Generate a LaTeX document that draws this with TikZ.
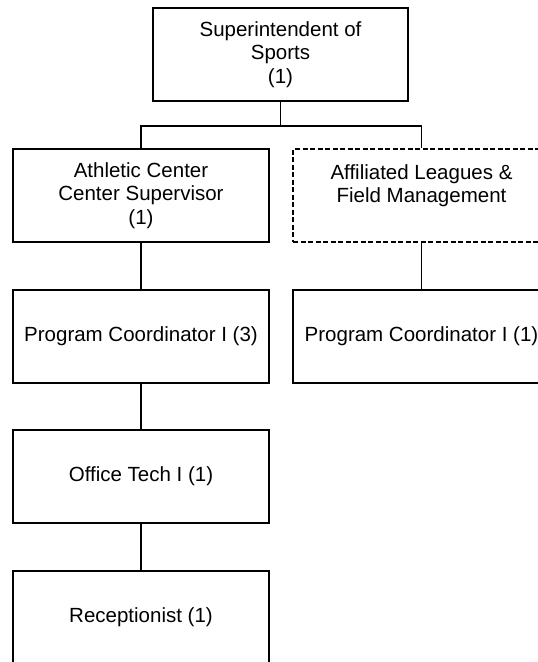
\documentclass[tikz,border=0pt]{standalone}
\usepackage{fontspec}
\setmainfont{Liberation Sans}
\begin{document}
\begin{tikzpicture}[x=1pt,y=1pt,
  box/.style={draw=black, line width=1.5pt, rectangle, inner sep=0pt,
    minimum height=93pt, align=center,
    font=\fontsize{20.5}{23.5}\selectfont},
  dbox/.style={box, line width=1.1pt, dash pattern=on 5pt off 2.5pt},
  link/.style={draw=black, line width=1.5pt}]
\clip (0,0) rectangle (538,-662);
\node[box, minimum width=255pt] (top) at (280.5,-54.5) {Superintendent of\\Sports\\(1)};
\node[box, minimum width=256pt] (ac) at (141,-195.5) {Athletic Center\\Center Supervisor\\(1)};
\node[dbox, minimum width=257pt] (al) at (421.5,-195.5) {Affiliated Leagues \&\\Field Management\\\mbox{}};
\node[box, minimum width=256pt] (pc3) at (141,-336.5) {Program Coordinator I (3)};
\node[box, minimum width=257pt] (pc1) at (421.5,-336.5) {Program Coordinator I (1)};
\node[box, minimum width=256pt] (ot) at (141,-476.5) {Office Tech I (1)};
\node[box, minimum width=256pt] (rc) at (141,-617.5) {Receptionist (1)};
\coordinate (j) at (280.5,-126);
\draw[link] (top.south) -- (j);
\draw[link] (ac.north) |- (j) -| (al.north);
\draw[link] (ac.south) -- (pc3.north);
\draw[link] (al.south) -- (pc1.north);
\draw[link] (pc3.south) -- (ot.north);
\draw[link] (ot.south) -- (rc.north);
\end{tikzpicture}
\end{document}
